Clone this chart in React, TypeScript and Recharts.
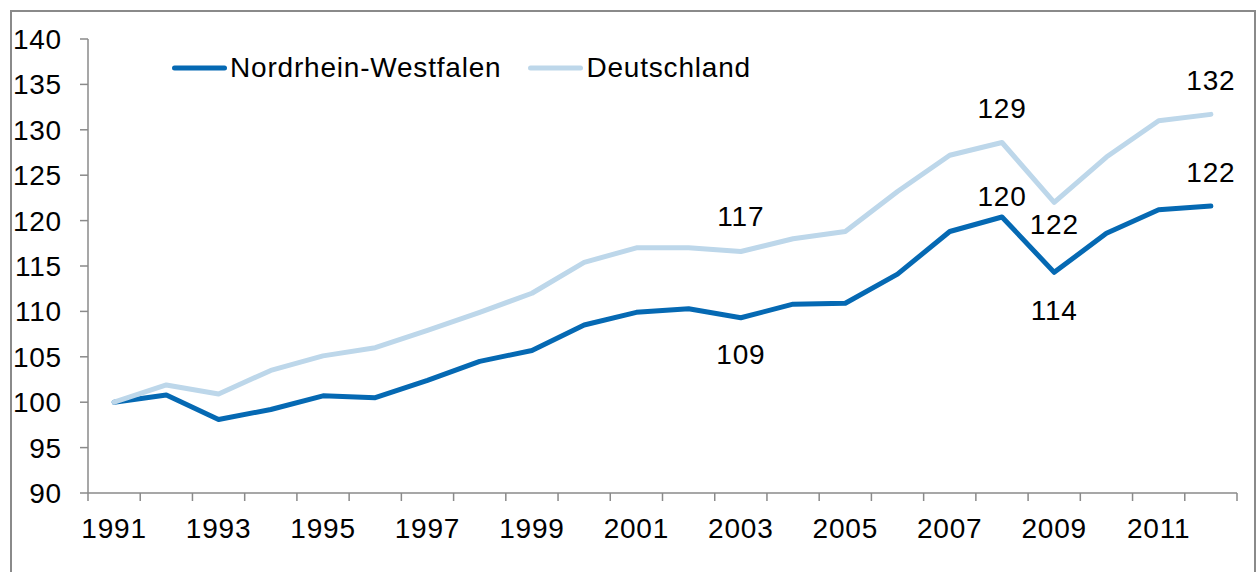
import { LineChart, Line, XAxis, YAxis } from 'recharts'

const years = [
  1991, 1992, 1993, 1994, 1995, 1996, 1997, 1998, 1999, 2000, 2001,
  2002, 2003, 2004, 2005, 2006, 2007, 2008, 2009, 2010, 2011, 2012,
]
const nrw = [
  100, 100.8, 98.1, 99.2, 100.7, 100.5, 102.4, 104.5, 105.7, 108.5, 109.9,
  110.3, 109.3, 110.8, 110.9, 114.1, 118.8, 120.4, 114.3, 118.6, 121.2, 121.6,
]
const deutschland = [
  100, 101.9, 100.9, 103.5, 105.1, 106.0, 107.9, 109.9, 112.0, 115.4, 117.0,
  117.0, 116.6, 118.0, 118.8, 123.2, 127.2, 128.6, 122.0, 127.0, 131.0, 131.7,
]
const yTicks = [90, 95, 100, 105, 110, 115, 120, 125, 130, 135, 140]

// which points get a value label, and where it sits
const nrwLabels = [
  { year: 2003, dy: 36 },
  { year: 2008, dy: -21 },
  { year: 2009, dy: 38 },
  { year: 2012, dy: -34 },
]
const deLabels = [
  { year: 2003, dy: -35 },
  { year: 2008, dy: -34 },
  { year: 2009, dy: 22 },
  { year: 2012, dy: -34 },
]

const DARK = '#0569b3'
const LIGHT = '#bdd7ea'
const AXIS = '#8a8a8a'
const FONT = '"Liberation Sans", Arial, sans-serif'
const FS = 28

const data = years.map((year, i) => ({ year, nrw: nrw[i], de: deutschland[i] }))

// tick marks sit between the years, labels on every second year
const xTicks = [years[0] - 0.5]
years.forEach((y) => {
  if (y % 2 === 1) xTicks.push(y)
  xTicks.push(y + 0.5)
})

const YearTick = ({ x, y, payload }: any) => {
  const v = payload.value
  if (Number.isInteger(v)) {
    return (
      <text x={x} y={y} dy="0.71em" textAnchor="middle" fontSize={FS} fontFamily={FONT} fill="#000">
        {v}
      </text>
    )
  }
  return <line x1={x} x2={x} y1={y - 25} y2={y - 17} stroke={AXIS} strokeWidth={1.5} />
}

const makeLabel = (marks: { year: number; dy: number }[]) => (props: any) => {
  const { x, y, value, index } = props
  const m = marks.find((k) => k.year === years[index])
  if (!m) return null
  return (
    <text
      key={`l-${index}`}
      x={x}
      y={y + m.dy}
      dy="0.355em"
      textAnchor="middle"
      fontSize={FS}
      fontFamily={FONT}
      fill="#000"
    >
      {Math.round(value)}
    </text>
  )
}

const LegendItem = ({ color, name }: { color: string; name: string }) => (
  <div style={{ display: 'flex', alignItems: 'center', marginRight: 25 }}>
    <svg width={58} height={8} style={{ marginRight: 2 }}>
      <line x1={4.5} x2={54.5} y1={4} y2={4} stroke={color} strokeWidth={5} strokeLinecap="round" />
    </svg>
    <span style={{ fontSize: FS, fontFamily: FONT, color: '#000', lineHeight: 1, letterSpacing: '0.8px' }}>
      {name}
    </span>
  </div>
)

export default function App() {
  return (
    <>
      <style>{`body{margin:0;overflow:hidden;background:#fff} .recharts-wrapper text{letter-spacing:0.8px}`}</style>
      <div
        style={{
          position: 'absolute',
          left: 10,
          top: 10,
          width: 1246,
          height: 570,
          boxSizing: 'border-box',
          border: `2px solid ${AXIS}`,
          borderBottom: 'none',
        }}
      >
        <LineChart
          width={1242}
          height={560}
          data={data}
          margin={{ top: 27, right: 17, left: 0, bottom: 0 }}
        >
          <XAxis
            dataKey="year"
            type="number"
            domain={[years[0] - 0.5, years[years.length - 1] + 0.5]}
            ticks={xTicks}
            interval={0}
            tick={<YearTick />}
            tickLine={false}
            tickSize={0}
            tickMargin={25}
            axisLine={{ stroke: AXIS, strokeWidth: 1.5 }}
            height={79}
          />
          <YAxis
            domain={[90, 140]}
            ticks={yTicks}
            interval={0}
            width={76}
            tickSize={8}
            tickMargin={18}
            tickLine={{ stroke: AXIS, strokeWidth: 1.5 }}
            axisLine={{ stroke: AXIS, strokeWidth: 1.5 }}
            tick={{ fontSize: FS, fontFamily: FONT, fill: '#000' }}
          />
          <Line
            dataKey="nrw"
            name="Nordrhein-Westfalen"
            stroke={DARK}
            strokeWidth={5}
            strokeLinecap="round"
            strokeLinejoin="round"
            dot={false}
            activeDot={false}
            isAnimationActive={false}
            label={makeLabel(nrwLabels)}
          />
          <Line
            dataKey="de"
            name="Deutschland"
            stroke={LIGHT}
            strokeWidth={5}
            strokeLinecap="round"
            strokeLinejoin="round"
            dot={false}
            activeDot={false}
            isAnimationActive={false}
            label={makeLabel(deLabels)}
          />
        </LineChart>
        <div style={{ position: 'absolute', left: 158, top: 42, display: 'flex' }}>
          <LegendItem color={DARK} name="Nordrhein-Westfalen" />
          <LegendItem color={LIGHT} name="Deutschland" />
        </div>
      </div>
    </>
  )
}
